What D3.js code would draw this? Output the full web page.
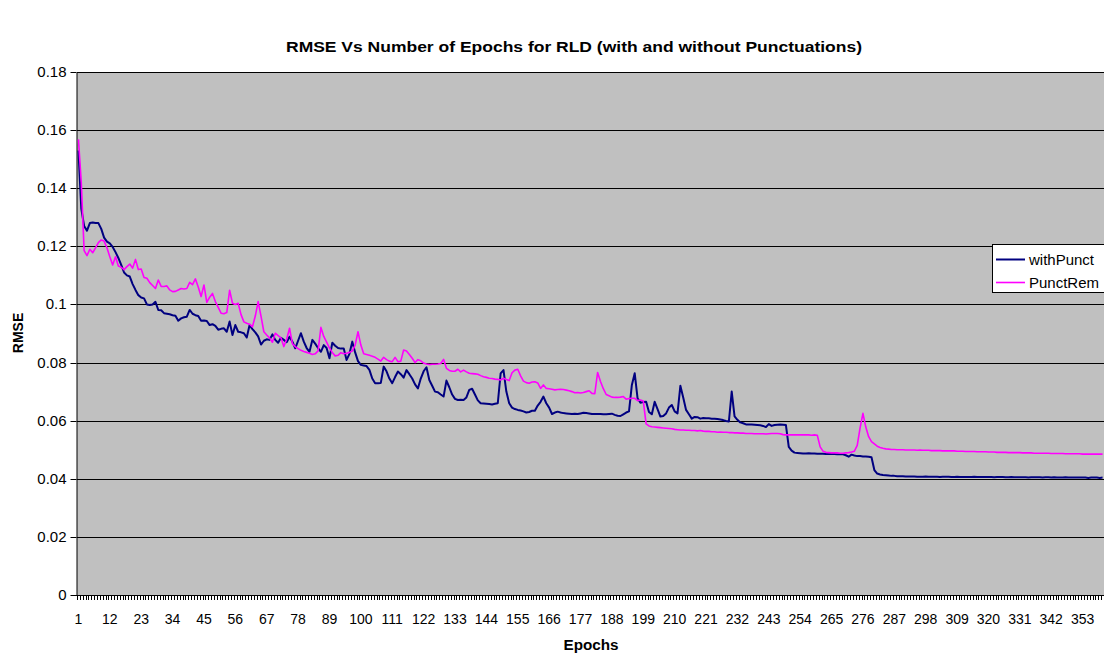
<!DOCTYPE html>
<html>
<head>
<meta charset="utf-8">
<script src="https://cdn.jsdelivr.net/npm/d3@7/dist/d3.min.js"></script>
<style>
  body { margin: 0; background: #fff; }
  svg { display: block; font-family: "Liberation Sans", Arial, sans-serif; }
</style>
</head>
<body>
<svg id="chart" width="1104" height="655"></svg>
<script>
// RMSE per epoch
var withPunct = [
  0.153, 0.133, 0.127, 0.1254, 0.128, 0.1282, 0.128, 0.128, 0.126, 0.123,
  0.1216, 0.121, 0.1198, 0.118, 0.116, 0.1136, 0.111, 0.110, 0.1096, 0.107,
  0.105, 0.1032, 0.1024, 0.1021, 0.1000, 0.0998, 0.1000, 0.1009, 0.0981, 0.0980,
  0.0970, 0.0968, 0.0966, 0.0963, 0.0961, 0.0944, 0.0952, 0.0956, 0.0958, 0.0981,
  0.0968, 0.0963, 0.0960, 0.0944, 0.0945, 0.0943, 0.0929, 0.0932, 0.0926, 0.0913,
  0.0916, 0.0918, 0.0906, 0.0941, 0.0895, 0.0929, 0.0906, 0.0904, 0.0901, 0.0886,
  0.0929, 0.0915, 0.0904, 0.0890, 0.0862, 0.0875, 0.0880, 0.0878, 0.0897, 0.0878,
  0.0868, 0.0885, 0.0878, 0.0870, 0.0889, 0.0872, 0.0849, 0.0875, 0.0901, 0.0872,
  0.0850, 0.0837, 0.0878, 0.0865, 0.0850, 0.0837, 0.0860, 0.0850, 0.0815, 0.0868,
  0.0858, 0.0850, 0.0848, 0.0848, 0.0809, 0.0830, 0.0872, 0.0835, 0.0805, 0.0792,
  0.0790, 0.0788, 0.0775, 0.0745, 0.0729, 0.0729, 0.0730, 0.0786, 0.0770, 0.0745,
  0.0729, 0.0750, 0.0769, 0.0760, 0.0748, 0.0774, 0.0760, 0.0745, 0.0725, 0.0711,
  0.0745, 0.0770, 0.0784, 0.0740, 0.0720, 0.0700, 0.0698, 0.0690, 0.0683, 0.0738,
  0.0715, 0.0690, 0.0675, 0.0671, 0.0672, 0.0671, 0.0680, 0.0706, 0.0710, 0.0690,
  0.0670, 0.0660, 0.0659, 0.0658, 0.0657, 0.0656, 0.0658, 0.0660, 0.0763, 0.0774,
  0.0700, 0.0660, 0.0645, 0.0640, 0.0637, 0.0635, 0.0632, 0.0628, 0.0630, 0.0634,
  0.0634, 0.0652, 0.0665, 0.0683, 0.0660, 0.0645, 0.0623, 0.0628, 0.0631, 0.0628,
  0.0626, 0.0625, 0.0624, 0.0623, 0.0624, 0.0623, 0.0625, 0.0627, 0.0626, 0.0625,
  0.0623, 0.0623, 0.0623, 0.0623, 0.0622, 0.0622, 0.0623, 0.0624, 0.0620, 0.0617,
  0.0616, 0.0622, 0.0628, 0.0632, 0.0723, 0.0763, 0.0677, 0.0662, 0.0664, 0.0665,
  0.0630, 0.0622, 0.0665, 0.0640, 0.0614, 0.0616, 0.0625, 0.0645, 0.0654, 0.0632,
  0.0625, 0.0720, 0.0680, 0.0637, 0.0622, 0.0607, 0.0613, 0.0612, 0.0607, 0.0609,
  0.0608, 0.0608, 0.0607, 0.0607, 0.0606, 0.0604, 0.0602, 0.0599, 0.0597, 0.0700,
  0.0615, 0.0603, 0.0594, 0.0591, 0.0587, 0.0587, 0.0587, 0.0586, 0.0585, 0.0584,
  0.0582, 0.0578, 0.0588, 0.0582, 0.0585, 0.0586, 0.0587, 0.0586, 0.0585, 0.0510,
  0.0497, 0.0490, 0.0489, 0.0488, 0.0487, 0.0487, 0.0488, 0.0487, 0.0487, 0.0486,
  0.0486, 0.0486, 0.0485, 0.0485, 0.0486, 0.0485, 0.0484, 0.0485, 0.0484, 0.0481,
  0.0476, 0.0483, 0.0480, 0.0478, 0.0478, 0.0477, 0.0477, 0.0476, 0.0474, 0.0430,
  0.0418, 0.0415, 0.0413, 0.0412, 0.0411, 0.0410, 0.0410, 0.0409, 0.0409, 0.0409,
  0.0408, 0.0408, 0.0408, 0.0408, 0.0407, 0.0407, 0.0407, 0.0408, 0.0407, 0.0407,
  0.0407, 0.0407, 0.0406, 0.0407, 0.0407, 0.0407, 0.0406, 0.0406, 0.0407, 0.0406,
  0.0406, 0.0406, 0.0406, 0.0406, 0.0407, 0.0406, 0.0406, 0.0406, 0.0406, 0.0406,
  0.0406, 0.0405, 0.0406, 0.0406, 0.0406, 0.0405, 0.0405, 0.0406, 0.0405, 0.0405,
  0.0405, 0.0405, 0.0405, 0.0404, 0.0405, 0.0405, 0.0405, 0.0405, 0.0404, 0.0405,
  0.0405, 0.0404, 0.0405, 0.0404, 0.0404, 0.0404, 0.0405, 0.0404, 0.0404, 0.0404,
  0.0404, 0.0404, 0.0404, 0.0404, 0.0403, 0.0404, 0.0404, 0.0404, 0.0403, 0.0404
];

var punctRem = [
  0.1568, 0.1420, 0.1185, 0.1168, 0.1190, 0.1178, 0.1195, 0.1213, 0.1222, 0.1218,
  0.1195, 0.1164, 0.1136, 0.1164, 0.1132, 0.1128, 0.1120, 0.1130, 0.1139, 0.1125,
  0.1155, 0.1120, 0.1122, 0.1093, 0.1090, 0.1075, 0.1065, 0.1055, 0.1084, 0.1062,
  0.1062, 0.1064, 0.1050, 0.1044, 0.1045, 0.1050, 0.1055, 0.1053, 0.1055, 0.1076,
  0.1068, 0.1088, 0.1060, 0.1027, 0.1067, 0.1007, 0.1025, 0.1038, 0.1010, 0.0990,
  0.0970, 0.0968, 0.0972, 0.1049, 0.1004, 0.1000, 0.1004, 0.0965, 0.0940, 0.0935,
  0.0932, 0.0923, 0.0960, 0.1010, 0.0960, 0.0906, 0.0895, 0.0885, 0.0870, 0.0901,
  0.0893, 0.0885, 0.0855, 0.0880, 0.0918, 0.0865, 0.0855, 0.0848, 0.0842, 0.0838,
  0.0835, 0.0832, 0.0828, 0.0830, 0.0840, 0.0921, 0.0890, 0.0870, 0.0850, 0.0835,
  0.0823, 0.0825, 0.0834, 0.0830, 0.0832, 0.0835, 0.0840, 0.0860, 0.0906, 0.0860,
  0.0830, 0.0828, 0.0825, 0.0822, 0.0818, 0.0812, 0.0805, 0.0818, 0.0810, 0.0805,
  0.0803, 0.0818, 0.0803, 0.0805, 0.0843, 0.0840, 0.0828, 0.0815, 0.0800, 0.0810,
  0.0806, 0.0798, 0.0795, 0.0793, 0.0794, 0.0794, 0.0795, 0.0797, 0.0811, 0.0780,
  0.0773, 0.0770, 0.0770, 0.0777, 0.0768, 0.0774, 0.0768, 0.0763, 0.0762, 0.0761,
  0.0760, 0.0755, 0.0751, 0.0749, 0.0746, 0.0745, 0.0743, 0.0742, 0.0740, 0.0746,
  0.0742, 0.0738, 0.0765, 0.0774, 0.0777, 0.0754, 0.0736, 0.0731, 0.0729, 0.0733,
  0.0734, 0.0730, 0.0711, 0.0723, 0.0711, 0.0710, 0.0708, 0.0706, 0.0707, 0.0708,
  0.0707, 0.0705, 0.0703, 0.0700, 0.0696, 0.0697, 0.0695, 0.0697, 0.0700, 0.0703,
  0.0694, 0.0693, 0.0766, 0.0735, 0.0710, 0.0690, 0.0686, 0.0681, 0.0680, 0.0680,
  0.0681, 0.0683, 0.0674, 0.0676, 0.0677, 0.0677, 0.0669, 0.0671, 0.0668, 0.0589,
  0.0582, 0.0579, 0.0578, 0.0577, 0.0576, 0.0575, 0.0574, 0.0573, 0.0572, 0.0570,
  0.0569, 0.0568, 0.0568, 0.0567, 0.0567, 0.0566, 0.0566, 0.0565, 0.0566, 0.0564,
  0.0563, 0.0563, 0.0562, 0.0562, 0.0560, 0.0561, 0.0560, 0.0560, 0.0559, 0.0559,
  0.0558, 0.0558, 0.0557, 0.0557, 0.0556, 0.0556, 0.0556, 0.0555, 0.0555, 0.0555,
  0.0555, 0.0554, 0.0555, 0.0556, 0.0556, 0.0556, 0.0555, 0.0552, 0.0551, 0.0551,
  0.0551, 0.0551, 0.0551, 0.0551, 0.0551, 0.0551, 0.0551, 0.0550, 0.0551, 0.0550,
  0.0510, 0.0495, 0.0491, 0.0490, 0.0489, 0.0489, 0.0489, 0.0488, 0.0488, 0.0489,
  0.0490, 0.0492, 0.0495, 0.0515, 0.0575, 0.0625, 0.0578, 0.0545, 0.0528, 0.0520,
  0.0512, 0.0508, 0.0505, 0.0503, 0.0502, 0.0501, 0.0501, 0.0500, 0.0500, 0.0500,
  0.0499, 0.0499, 0.0499, 0.0499, 0.0498, 0.0499, 0.0498, 0.0498, 0.0498, 0.0497,
  0.0497, 0.0497, 0.0497, 0.0496, 0.0496, 0.0496, 0.0496, 0.0496, 0.0495, 0.0495,
  0.0495, 0.0494, 0.0494, 0.0494, 0.0494, 0.0493, 0.0493, 0.0493, 0.0493, 0.0492,
  0.0492, 0.0492, 0.0491, 0.0491, 0.0491, 0.0491, 0.0490, 0.0490, 0.0490, 0.0490,
  0.0490, 0.0489, 0.0489, 0.0489, 0.0489, 0.0488, 0.0488, 0.0488, 0.0488, 0.0488,
  0.0488, 0.0487, 0.0487, 0.0487, 0.0487, 0.0487, 0.0486, 0.0486, 0.0486, 0.0486,
  0.0486, 0.0486, 0.0485, 0.0485, 0.0485, 0.0485, 0.0485, 0.0485, 0.0485, 0.0485
];

var epochs = d3.range(1, withPunct.length + 1);
var xTickLabels = [1, 12, 23, 34, 45, 56, 67, 78, 89, 100, 111, 122, 133, 144, 155, 166,
  177, 188, 199, 210, 221, 232, 243, 254, 265, 276, 287, 298, 309, 320, 331, 342, 353];
var yTicks = [0, 0.02, 0.04, 0.06, 0.08, 0.1, 0.12, 0.14, 0.16, 0.18];
var yTickLabels = ['0', '0.02', '0.04', '0.06', '0.08', '0.1', '0.12', '0.14', '0.16', '0.18'];
var seriesNames = ['withPunct', 'PunctRem'];
var seriesColors = ['#000080', '#ff00ff'];

var svg = d3.select('#chart');
var plot = { left: 77, right: 1104, top: 72, bottom: 595 };
var fontFamily = '"Liberation Sans", Arial, sans-serif';

var x = d3.scaleBand()
  .domain(epochs)
  .range([plot.left, plot.right])
  .paddingInner(0)
  .paddingOuter(0);

var y = d3.scaleLinear()
  .domain([0, 0.18])
  .range([plot.bottom, plot.top]);

// plot area
svg.append('rect')
  .attr('x', plot.left)
  .attr('y', plot.top)
  .attr('width', plot.right - plot.left)
  .attr('height', plot.bottom - plot.top)
  .attr('fill', '#c0c0c0');

// gridlines
svg.append('g')
  .attr('class', 'grid')
  .selectAll('line')
  .data(yTicks.slice(1))
  .enter()
  .append('line')
  .attr('x1', plot.left)
  .attr('x2', plot.right)
  .attr('y1', function(d) { return Math.round(y(d)) + 0.5; })
  .attr('y2', function(d) { return Math.round(y(d)) + 0.5; })
  .attr('stroke', '#000')
  .attr('stroke-width', 1);

// y axis
var yAxis = svg.append('g')
  .attr('transform', 'translate(' + (plot.left - 0.5) + ',0)')
  .call(d3.axisLeft(y)
    .tickValues(yTicks)
    .tickSize(6)
    .tickPadding(4)
    .tickSizeOuter(0)
    .tickFormat(function(d, i) { return yTickLabels[i]; }));
yAxis.selectAll('.tick')
  .attr('transform', function(d) { return 'translate(0,' + (Math.round(y(d)) + 0.5) + ')'; });
yAxis.selectAll('text')
  .attr('font-size', 15)
  .attr('font-family', fontFamily)
  .attr('fill', '#000');

// x axis labels (category centres)
var xAxis = svg.append('g')
  .attr('transform', 'translate(0,' + plot.bottom + ')')
  .call(d3.axisBottom(x)
    .tickValues(xTickLabels)
    .tickSize(0)
    .tickSizeOuter(0)
    .tickPadding(19));
xAxis.select('.domain').remove();
xAxis.selectAll('text')
  .attr('font-size', 14)
  .attr('font-family', fontFamily)
  .attr('fill', '#000');

// category tick marks between categories
svg.append('g')
  .attr('class', 'cat-ticks')
  .selectAll('line')
  .data(epochs)
  .enter()
  .append('line')
  .attr('x1', function(d) { return Math.round(x(d)) + 0.5; })
  .attr('x2', function(d) { return Math.round(x(d)) + 0.5; })
  .attr('y1', plot.bottom)
  .attr('y2', plot.bottom + 5)
  .attr('stroke', '#000')
  .attr('stroke-width', 1);

// x axis line
svg.append('line')
  .attr('x1', plot.left - 6)
  .attr('x2', plot.right)
  .attr('y1', plot.bottom + 0.5)
  .attr('y2', plot.bottom + 0.5)
  .attr('stroke', '#000');

// series lines
var line = d3.line()
  .x(function(d, i) { return x(epochs[i]) + x.bandwidth() / 2; })
  .y(function(d) { return y(d); });

svg.append('g')
  .attr('class', 'series')
  .selectAll('path')
  .data([withPunct, punctRem])
  .enter()
  .append('path')
  .attr('d', line)
  .attr('fill', 'none')
  .attr('stroke', function(d, i) { return seriesColors[i]; })
  .attr('stroke-width', function(d, i) { return i === 0 ? 2 : 1.6; })
  .attr('stroke-linejoin', 'round');

// title and axis names
svg.append('text')
  .text('RMSE Vs Number of Epochs for RLD (with and without Punctuations)')
  .attr('x', 574)
  .attr('y', 52)
  .attr('text-anchor', 'middle')
  .attr('font-size', 15)
  .attr('font-weight', 'bold')
  .attr('textLength', 576)
  .attr('lengthAdjust', 'spacingAndGlyphs');

svg.append('text')
  .text('Epochs')
  .attr('x', 591)
  .attr('y', 650)
  .attr('text-anchor', 'middle')
  .attr('font-size', 14)
  .attr('font-weight', 'bold')
  .attr('textLength', 55)
  .attr('lengthAdjust', 'spacingAndGlyphs');

svg.append('text')
  .text('RMSE')
  .attr('transform', 'translate(23,333) rotate(-90)')
  .attr('text-anchor', 'middle')
  .attr('font-size', 14)
  .attr('font-weight', 'bold');

// legend
var legend = svg.append('g')
  .attr('class', 'legend');
legend.append('rect')
  .attr('x', 992.5)
  .attr('y', 244.5)
  .attr('width', 130)
  .attr('height', 48)
  .attr('fill', '#fff')
  .attr('stroke', '#000');
var items = legend.selectAll('g.item')
  .data(seriesNames)
  .enter()
  .append('g')
  .attr('class', 'item')
  .attr('transform', function(d, i) { return 'translate(0,' + (259 + i * 23) + ')'; });
items.append('line')
  .attr('x1', 996)
  .attr('x2', 1025)
  .attr('y1', 0.5)
  .attr('y2', 0.5)
  .attr('stroke', function(d, i) { return seriesColors[i]; })
  .attr('stroke-width', function(d, i) { return i === 0 ? 2 : 1.6; });
items.append('text')
  .text(function(d) { return d; })
  .attr('x', 1029)
  .attr('y', 5.5)
  .attr('font-size', 15);
</script>
</body>
</html>
